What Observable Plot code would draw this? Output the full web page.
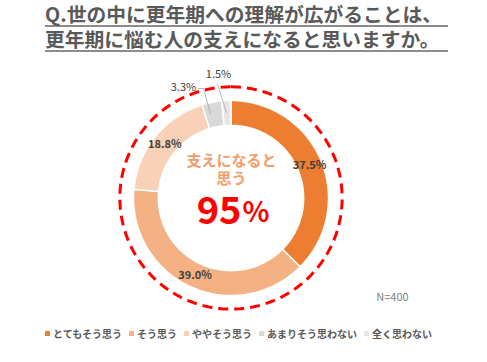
<!DOCTYPE html>
<html><head><meta charset="utf-8">
<script src="https://cdn.jsdelivr.net/npm/d3@7"></script>
<script src="https://cdn.jsdelivr.net/npm/@observablehq/plot@0.6"></script>
<style>
body{margin:0;background:#fff;font-family:"Noto Sans CJK JP",sans-serif;}
#wrap{position:relative;width:487px;height:362px;overflow:hidden;}
#title{position:absolute;left:45px;top:3px;color:#595959;font-weight:bold;font-size:19.75px;line-height:22px;}
#title div{border-bottom:2px solid #8c8c8c;padding-right:6px;margin-bottom:1px;white-space:nowrap;}
#chart{position:absolute;left:0;top:60px;}
#legend{position:absolute;left:45px;top:326px;}
#legend [class$="-swatch"]{margin-right:7px !important;}
#legend svg{margin-right:3px !important;}
</style></head>
<body><div id="wrap">
<div id="title"></div>
<div id="chart"></div>
<div id="legend"></div>
</div>
<script>
const titleLines = ["Q.世の中に更年期への理解が広がることは、","更年期に悩む人の支えになると思いますか。"];
const categories = ["とてもそう思う","そう思う","ややそう思う","あまりそう思わない","全く思わない"];
const values = [37.5, 39.0, 18.8, 3.3, 1.5];
const valueLabels = ["37.5%","39.0%","18.8%","3.3%","1.5%"];
const colors = ["#ED7D31","#F4B183","#F9D1B8","#D9D9D9","#E7E6E6"];
const centerLines = ["支えになると","思う"];
const bigValue = "95";
const bigUnit = "%";
const nLabel = "N=400";

for (const t of titleLines) {
  const d = document.createElement("div");
  d.textContent = t;
  document.getElementById("title").appendChild(d);
}

// geometry (units: outer radius = 1)
const W = 487, H = 255, R = 97.5, cx = 230.5, cy = 137.5;
const inner = 0.745, dashR = 1.14;
const ux = px => (px - cx) / R;
const uy = py => (cy - (py - 60)) / R; // py in page coords

const data = categories.map((c, i) => ({cat: c, value: values[i], label: valueLabels[i]}));
const arcs = d3.pie().sort(null).value(d => d.value)(data);

const ringPts = [];
for (const a of arcs) {
  const n = Math.max(4, Math.ceil((a.endAngle - a.startAngle) / 0.02));
  for (let k = 0; k <= n; k++) {
    const t = a.startAngle + (a.endAngle - a.startAngle) * k / n;
    ringPts.push({cat: a.data.cat, x: Math.sin(t), y: Math.cos(t)});
  }
  for (let k = n; k >= 0; k--) {
    const t = a.startAngle + (a.endAngle - a.startAngle) * k / n;
    ringPts.push({cat: a.data.cat, x: inner * Math.sin(t), y: inner * Math.cos(t)});
  }
}
const circlePts = d3.range(0, 361, 1).map(d => {
  const t = d * Math.PI / 180;
  return {x: dashR * Math.sin(t), y: dashR * Math.cos(t)};
});

const mid = (1 + inner) / 2;
const inLabels = arcs.slice(0, 3).map(a => {
  const t = (a.startAngle + a.endAngle) / 2;
  return {x: mid * Math.sin(t), y: mid * Math.cos(t), text: a.data.label};
});
const outLabels = [
  {x: ux(183), y: uy(87), text: arcs[3].data.label},
  {x: ux(218), y: uy(74), text: arcs[4].data.label}
];
const leaders = [
  {g: 0, x: ux(198), y: uy(88)}, {g: 0, x: ux(203), y: uy(88)}, {g: 0, x: ux(210), y: uy(113)},
  {g: 1, x: ux(217), y: uy(84)}, {g: 1, x: ux(226), y: uy(112)}
];

const svg = Plot.plot({
  width: W, height: H, margin: 0,
  x: {domain: [ux(0), ux(W)], axis: null},
  y: {domain: [uy(60 + H), uy(60)], axis: null},
  color: {domain: categories, range: colors},
  style: {fontFamily: "'Noto Sans CJK JP', sans-serif", background: "transparent"},
  marks: [
    Plot.line(ringPts, {x: "x", y: "y", z: "cat", fill: "cat", stroke: "white", strokeWidth: 1.5, curve: "linear-closed", strokeLinejoin: "miter"}),
    Plot.line(circlePts, {x: "x", y: "y", stroke: "#FF0000", strokeWidth: 3, strokeDasharray: "10,6", strokeLinecap: "butt"}),
    Plot.line(leaders, {x: "x", y: "y", z: "g", stroke: "#A6A6A6", strokeWidth: 0.8}),
    Plot.text(inLabels, {x: "x", y: "y", text: "text", fill: "#404040", fontSize: 11, fontWeight: "bold"}),
    Plot.text(outLabels, {x: "x", y: "y", text: "text", fill: "#404040", fontSize: 11}),
    Plot.text([{x: ux(231), y: uy(160.5), t: centerLines[0]}, {x: ux(231), y: uy(179), t: centerLines[1]}],
      {x: "x", y: "y", text: "t", fill: "#F19E6A", fontSize: 15, fontWeight: "bold"}),
    Plot.text([{x: ux(241), y: uy(211), t: bigValue}], {x: "x", y: "y", text: "t", fill: "#FF0000", fontSize: 38, fontWeight: "bold", textAnchor: "end"}),
    Plot.text([{x: ux(242), y: uy(213), t: bigUnit}], {x: "x", y: "y", text: "t", fill: "#FF0000", fontSize: 28, fontWeight: "bold", textAnchor: "start"}),
    Plot.text([{x: ux(392), y: uy(297), t: nLabel}], {x: "x", y: "y", text: "t", fill: "#808080", fontSize: 11})
  ]
});
document.getElementById("chart").appendChild(svg);

const leg = Plot.legend({
  color: {type: "ordinal", domain: categories, range: colors},
  legend: "swatches", swatchSize: 5,
  style: {fontFamily: "'Noto Sans CJK JP', sans-serif", fontSize: "10px", fontWeight: "bold", color: "#595959", marginLeft: 0, flexWrap: "nowrap", minHeight: "0", whiteSpace: "nowrap"}
});
document.getElementById("legend").appendChild(leg);
</script>
</body></html>
